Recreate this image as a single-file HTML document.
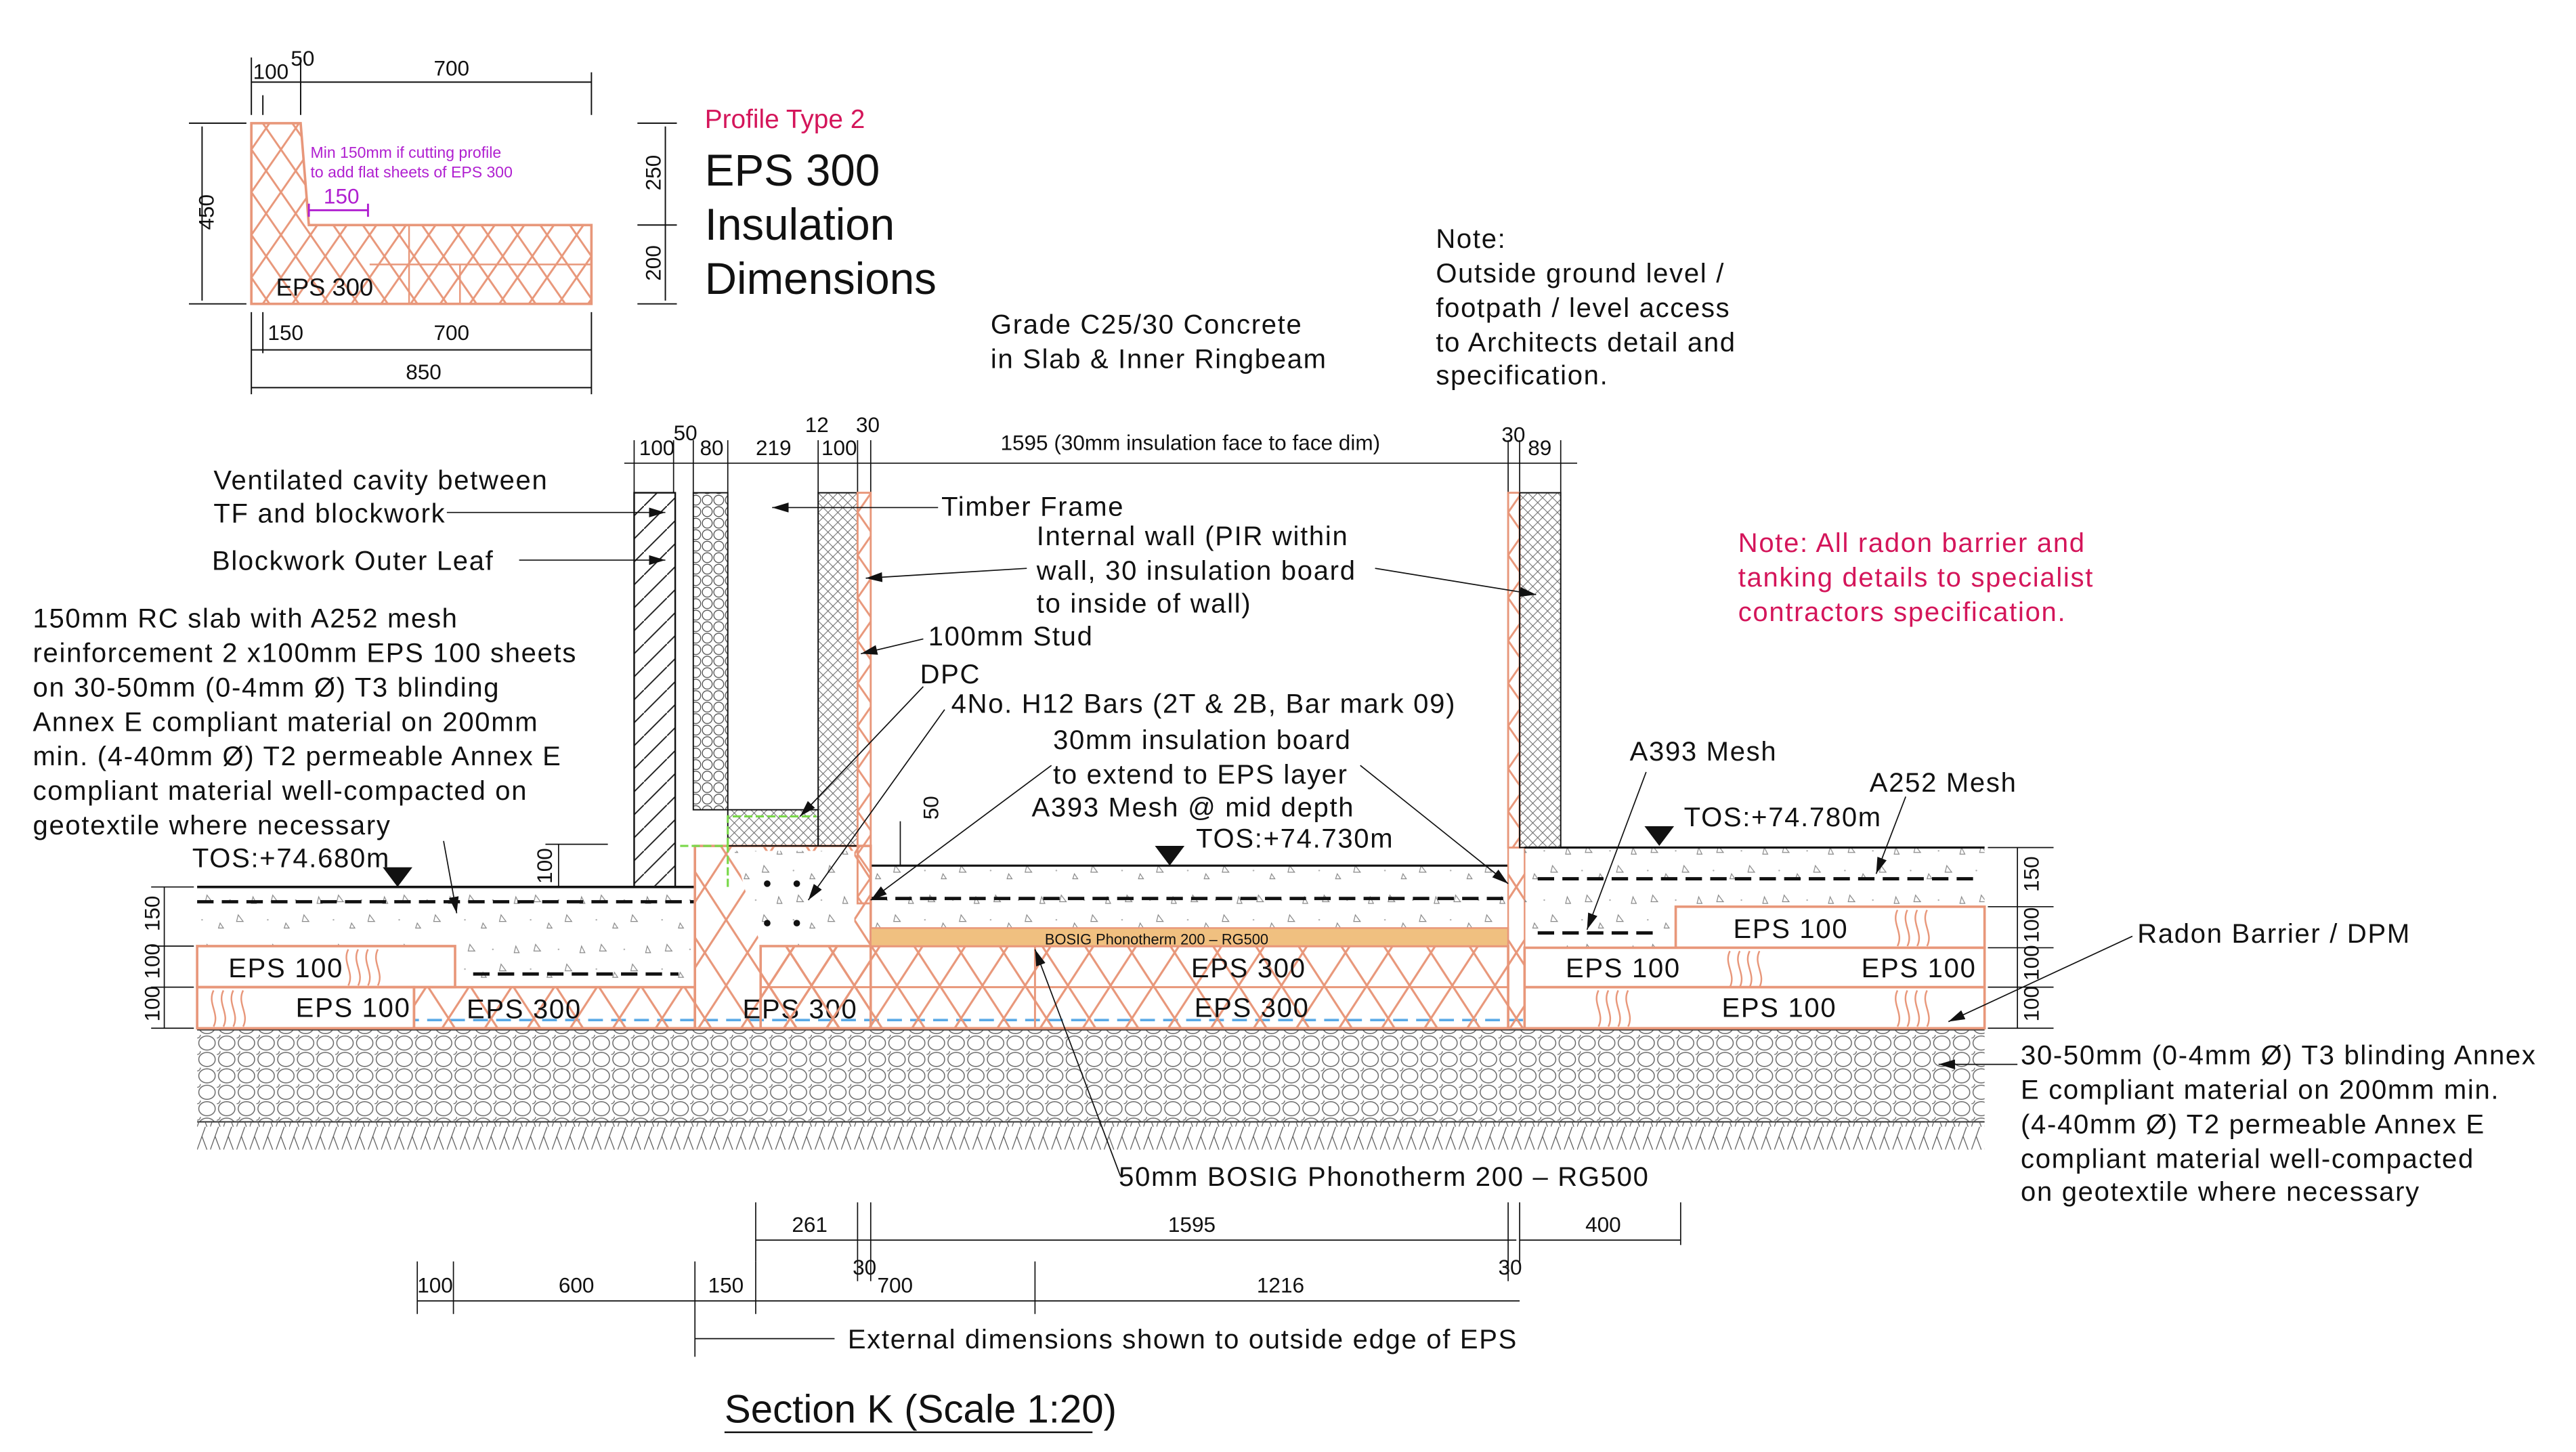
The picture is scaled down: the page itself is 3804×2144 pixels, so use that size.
<!DOCTYPE html>
<html><head><meta charset="utf-8"><style>
html,body{margin:0;padding:0;background:#fff}
svg{display:block}
text{font-family:"Liberation Sans",sans-serif;fill:#111}
.d{font-size:13px}
.l{font-size:16.5px;letter-spacing:0.7px}
</style></head><body>
<svg width="3804" height="2144" viewBox="0 0 1568 884" preserveAspectRatio="none" xmlns="http://www.w3.org/2000/svg">
<defs>
<pattern id="xh" width="26" height="40" patternUnits="userSpaceOnUse"><path d="M0 0L26 40M26 0L0 40" stroke="#e8977a" stroke-width="1.3" fill="none"/></pattern>
<pattern id="xhs" width="18" height="26" patternUnits="userSpaceOnUse"><path d="M0 0L18 26M18 0L0 26" stroke="#e8977a" stroke-width="1.2" fill="none"/></pattern>
<pattern id="conc" width="40" height="30" patternUnits="userSpaceOnUse"><path d="M6 5l3 4l-4 0zM25 17l3 4l-4 0zM34 6l2 4l-3 0zM14 22l2 3l-3 0z" stroke="#888" stroke-width="0.5" fill="none"/><circle cx="20" cy="8" r="0.5" fill="#aaa"/><circle cx="3" cy="20" r="0.5" fill="#aaa"/></pattern>
<pattern id="grav" width="12" height="10" patternUnits="userSpaceOnUse"><ellipse cx="6" cy="5" rx="5" ry="4.3" stroke="#666" stroke-width="0.6" fill="none"/><circle cx="0" cy="0" r="2" stroke="#666" stroke-width="0.5" fill="none"/></pattern>
<pattern id="soil" width="8" height="14" patternUnits="userSpaceOnUse"><path d="M0 14L5 0M6 14L3 6" stroke="#555" stroke-width="0.5"/></pattern>
<pattern id="diag" width="14" height="14" patternUnits="userSpaceOnUse"><path d="M0 14L14 0" stroke="#222" stroke-width="0.8"/></pattern>
<pattern id="hex" width="7" height="7" patternUnits="userSpaceOnUse"><circle cx="3.5" cy="3.5" r="3" stroke="#444" stroke-width="0.5" fill="none"/></pattern>
<pattern id="fx" width="6" height="6" patternUnits="userSpaceOnUse"><path d="M0 0L6 6M6 0L0 6" stroke="#666" stroke-width="0.4"/></pattern>
<marker id="ar" markerWidth="10" markerHeight="6" refX="10" refY="3" orient="auto" markerUnits="userSpaceOnUse"><path d="M0 0L10 3L0 6z" fill="#111"/></marker>
</defs>

<!-- INSET PROFILE -->
<g stroke="#111" stroke-width="0.8" fill="none">
<path d="M153 35V70M183 35V70M160 58V70M360 44V70M153 50H183M160 50H360"/>
<path d="M123 77V183M115 75H150M115 185H150"/>
<path d="M153 190V240M160 190V215M360 190V240M153 213H360M153 236H360"/>
<path d="M388 75H412M388 137H412M388 185H412M405 77V183"/>
</g>
<path d="M153 75H183L188 137H360V185H153Z" fill="url(#xhs)" stroke="#e8977a" stroke-width="1.5"/>
<path d="M249 137V185M225 161H360M280 161V185" stroke="#e8977a" stroke-width="1" fill="none"/>
<text class="d" x="154" y="48">100</text><text class="d" x="177" y="40">50</text><text class="d" x="264" y="46">700</text>
<text class="d" transform="translate(130,140) rotate(-90)">450</text>
<text x="189" y="96" font-size="9.5" style="fill:#b020d0">Min 150mm if cutting profile</text>
<text x="189" y="108" font-size="9.5" style="fill:#b020d0">to add flat sheets of EPS 300</text>
<text x="197" y="124" font-size="13" style="fill:#b020d0">150</text>
<path d="M188 128H224M188 124V132M224 124V132" stroke="#b020d0" stroke-width="1.2"/>
<text x="168" y="180" font-size="15">EPS 300</text>
<text class="d" x="163" y="207">150</text><text class="d" x="264" y="207">700</text><text class="d" x="247" y="231">850</text>
<text class="d" transform="translate(402,116) rotate(-90)">250</text>
<text class="d" transform="translate(402,171) rotate(-90)">200</text>
<text x="429" y="78" font-size="16" style="fill:#d4155a">Profile Type 2</text>
<text x="429" y="113" font-size="27">EPS 300</text>
<text x="429" y="146" font-size="27">Insulation</text>
<text x="429" y="179" font-size="27">Dimensions</text>

<text class="l" x="603" y="203">Grade C25/30 Concrete</text>
<text class="l" x="603" y="224">in Slab &amp; Inner Ringbeam</text>
<text class="l" x="874" y="151">Note:</text>
<text class="l" x="874" y="172">Outside ground level /</text>
<text class="l" x="874" y="193">footpath / level access</text>
<text class="l" x="874" y="214">to Architects detail and</text>
<text class="l" x="874" y="234">specification.</text>
<text class="l" x="1058" y="336" style="fill:#d4155a">Note: All radon barrier and</text>
<text class="l" x="1058" y="357" style="fill:#d4155a">tanking details to specialist</text>
<text class="l" x="1058" y="378" style="fill:#d4155a">contractors specification.</text>

<!-- top dims -->
<g stroke="#111" stroke-width="0.7" fill="none">
<path d="M380 282H540M540 282H960M386 268V300M410 268V300M422 268V300M443 268V300M498 268V300M522 268V300M530 268V300M918 268V300M925 268V300M950 268V300"/>
</g>
<text class="d" x="389" y="277">100</text><text class="d" x="410" y="268">50</text><text class="d" x="426" y="277">80</text><text class="d" x="460" y="277">219</text><text class="d" x="490" y="263">12</text><text class="d" x="500" y="277">100</text><text class="d" x="521" y="263">30</text>
<text class="d" x="609" y="274">1595 (30mm insulation face to face dim)</text>
<text class="d" x="914" y="269">30</text><text class="d" x="930" y="277">89</text>

<!-- ground -->
<rect x="120" y="627" width="1088" height="56" fill="url(#grav)"/>
<path d="M120 627H1208M120 683H1208" stroke="#333" stroke-width="0.8"/>
<rect x="120" y="683" width="1088" height="17" fill="url(#soil)"/>
<path d="M120 621H1208" stroke="#5aaae6" stroke-width="1.5" stroke-dasharray="9 5"/>

<!-- left section -->
<rect x="120" y="540" width="303" height="61" fill="url(#conc)"/>
<path d="M120 540H423" stroke="#111" stroke-width="1.5"/>
<path d="M120 549H423" stroke="#111" stroke-width="2" stroke-dasharray="10 5"/>
<path d="M288 593H413" stroke="#111" stroke-width="2" stroke-dasharray="10 5"/>
<path d="M120 576H277V601H120Z" fill="#fff" stroke="#e8977a" stroke-width="1.5"/>
<path d="M120 601H252V626H120Z" fill="#fff" stroke="#e8977a" stroke-width="1.5"/>
<rect x="252" y="601" width="171" height="25" fill="url(#xh)" stroke="#e8977a" stroke-width="1.5"/>
<g stroke="#e8977a" stroke-width="1" fill="none"><path d="M212 578c-4 8 4 14 0 22M218 578c-4 8 4 14 0 22M224 578c-4 8 4 14 0 22M230 578c-4 8 4 14 0 22M130 603c-4 8 4 14 0 22M136 603c-4 8 4 14 0 22M142 603c-4 8 4 14 0 22M148 603c-4 8 4 14 0 22"/></g>
<text class="l" x="139" y="595">EPS 100</text><text class="l" x="180" y="619">EPS 100</text><text class="l" x="284" y="620">EPS 300</text>

<!-- ringbeam -->
<path d="M423 515H530V626H423Z" fill="url(#xh)" stroke="#e8977a" stroke-width="1.5"/>
<path d="M447 518H520V576H463Z" fill="#fff"/>
<path d="M447 518H520V576H463Z" fill="url(#conc)"/>
<g fill="#111"><circle cx="467" cy="538" r="2"/><circle cx="485" cy="538" r="2"/><circle cx="467" cy="562" r="2"/><circle cx="485" cy="562" r="2"/></g>
<text class="l" x="452" y="620">EPS 300</text>

<!-- middle -->
<rect x="463" y="576" width="455" height="50" fill="url(#xh)" stroke="#e8977a" stroke-width="1.5"/>
<path d="M463 601H918M630 576V626" stroke="#e8977a" stroke-width="1.2"/>
<rect x="530" y="527" width="388" height="38" fill="url(#conc)"/>
<path d="M530 527H918" stroke="#111" stroke-width="1.3"/>
<path d="M530 547H918" stroke="#111" stroke-width="2" stroke-dasharray="10 5"/>
<rect x="530" y="565" width="388" height="11" fill="#f0c080" stroke="#e8977a"/>
<text x="636" y="575" font-size="9">BOSIG Phonotherm 200 – RG500</text>
<text class="l" x="725" y="595">EPS 300</text><text class="l" x="727" y="619">EPS 300</text>

<!-- right section -->
<rect x="918" y="516" width="10" height="110" fill="url(#xh)" stroke="#e8977a"/>
<rect x="928" y="516" width="280" height="61" fill="url(#conc)"/>
<path d="M928 516H1208" stroke="#111" stroke-width="1.3"/>
<path d="M936 535H1205" stroke="#111" stroke-width="2" stroke-dasharray="10 5"/>
<path d="M936 568H1010" stroke="#111" stroke-width="2" stroke-dasharray="10 5"/>
<path d="M1020 552H1208V577H1020Z" fill="#fff" stroke="#e8977a" stroke-width="1.5"/>
<path d="M928 577H1208V601H928ZM928 601H1208V626H928Z" fill="#fff" stroke="#e8977a" stroke-width="1.5"/>
<g stroke="#e8977a" stroke-width="1" fill="none"><path d="M1155 554c-4 8 4 14 0 22M1161 554c-4 8 4 14 0 22M1167 554c-4 8 4 14 0 22M1173 554c-4 8 4 14 0 22M1053 579c-4 8 4 14 0 22M1059 579c-4 8 4 14 0 22M1065 579c-4 8 4 14 0 22M1071 579c-4 8 4 14 0 22M973 603c-4 8 4 14 0 22M979 603c-4 8 4 14 0 22M985 603c-4 8 4 14 0 22M991 603c-4 8 4 14 0 22M1155 603c-4 8 4 14 0 22M1161 603c-4 8 4 14 0 22M1167 603c-4 8 4 14 0 22M1173 603c-4 8 4 14 0 22"/></g>
<text class="l" x="1055" y="571">EPS 100</text><text class="l" x="953" y="595">EPS 100</text><text class="l" x="1133" y="595">EPS 100</text><text class="l" x="1048" y="619">EPS 100</text>

<!-- walls -->
<rect x="386" y="300" width="25" height="240" fill="url(#diag)" stroke="#111" stroke-width="1"/>
<rect x="422" y="300" width="21" height="193" fill="url(#hex)" stroke="#111" stroke-width="0.8"/>
<rect x="443" y="493" width="55" height="22" fill="url(#fx)" stroke="#111" stroke-width="0.8"/>
<rect x="498" y="300" width="24" height="215" fill="url(#fx)" stroke="#111" stroke-width="0.8"/>
<rect x="522" y="300" width="8" height="250" fill="url(#xhs)" stroke="#e8977a" stroke-width="1.2"/>
<path d="M414 515H443V540M443 515V497H497" stroke="#7ad84a" stroke-width="1.3" stroke-dasharray="5 2" fill="none"/>
<rect x="918" y="300" width="7" height="216" fill="url(#xhs)" stroke="#e8977a" stroke-width="1.2"/>
<rect x="925" y="300" width="25" height="216" fill="url(#fx)" stroke="#111" stroke-width="0.8"/>

<!-- left dims -->
<g stroke="#111" stroke-width="0.7" fill="none">
<path d="M100 540V626M92 540H118M92 576H118M92 601H118M92 626H118"/>
<path d="M1228 516V626M1210 516H1250M1210 552H1250M1210 577H1250M1210 601H1250M1210 626H1250"/>
<path d="M340 514V540M332 514H370"/>
<path d="M548 500V527"/>
</g>
<text class="d" transform="translate(97,567) rotate(-90)">150</text>
<text class="d" transform="translate(97,596) rotate(-90)">100</text>
<text class="d" transform="translate(97,622) rotate(-90)">100</text>
<text class="d" transform="translate(1241,543) rotate(-90)">150</text>
<text class="d" transform="translate(1241,574) rotate(-90)">100</text>
<text class="d" transform="translate(1241,597) rotate(-90)">100</text>
<text class="d" transform="translate(1241,622) rotate(-90)">100</text>
<text class="d" transform="translate(336,538) rotate(-90)">100</text>
<text class="d" transform="translate(571,499) rotate(-90)">50</text>

<!-- TOS markers -->
<path d="M233 528h18l-9 12z" fill="#111"/>
<path d="M703 515h18l-9 12z" fill="#111"/>
<path d="M1001 503h18l-9 12z" fill="#111"/>
<text class="l" x="117" y="528">TOS:+74.680m</text>
<text class="l" x="728" y="516">TOS:+74.730m</text>
<text class="l" x="1025" y="503">TOS:+74.780m</text>

<!-- labels -->
<text class="l" x="130" y="298">Ventilated cavity between</text>
<text class="l" x="130" y="318">TF and blockwork</text>
<text class="l" x="129" y="347">Blockwork Outer Leaf</text>
<text class="l" x="20" y="382">150mm RC slab with A252 mesh</text>
<text class="l" x="20" y="403">reinforcement 2 x100mm EPS 100 sheets</text>
<text class="l" x="20" y="424">on 30-50mm (0-4mm Ø) T3 blinding</text>
<text class="l" x="20" y="445">Annex E compliant material on 200mm</text>
<text class="l" x="20" y="466">min. (4-40mm Ø) T2 permeable Annex E</text>
<text class="l" x="20" y="487">compliant material well-compacted on</text>
<text class="l" x="20" y="508">geotextile where necessary</text>
<text class="l" x="573" y="314">Timber Frame</text>
<text class="l" x="631" y="332">Internal wall (PIR within</text>
<text class="l" x="631" y="353">wall, 30 insulation board</text>
<text class="l" x="631" y="373">to inside of wall)</text>
<text class="l" x="565" y="393">100mm Stud</text>
<text class="l" x="560" y="416">DPC</text>
<text class="l" x="579" y="434">4No. H12 Bars (2T &amp; 2B, Bar mark 09)</text>
<text class="l" x="641" y="456">30mm insulation board</text>
<text class="l" x="641" y="477">to extend to EPS layer</text>
<text class="l" x="628" y="497">A393 Mesh @ mid depth</text>
<text class="l" x="992" y="463">A393 Mesh</text>
<text class="l" x="1138" y="482">A252 Mesh</text>
<text class="l" x="1301" y="574">Radon Barrier / DPM</text>
<text class="l" x="1230" y="648">30-50mm (0-4mm Ø) T3 blinding Annex</text>
<text class="l" x="1230" y="669">E compliant material on 200mm min.</text>
<text class="l" x="1230" y="690">(4-40mm Ø) T2 permeable Annex E</text>
<text class="l" x="1230" y="711">compliant material well-compacted</text>
<text class="l" x="1230" y="731">on geotextile where necessary</text>
<text class="l" x="681" y="722">50mm BOSIG Phonotherm 200 – RG500</text>

<!-- leaders -->
<g stroke="#111" stroke-width="0.7" fill="none" marker-end="url(#ar)">
<path d="M272 312L405 312"/>
<path d="M316 341L405 341"/>
<path d="M571 309L470 309"/>
<path d="M625 346L527 352"/>
<path d="M837 346L935 362"/>
<path d="M562 389L524 398"/>
<path d="M562 418L487 497"/>
<path d="M575 432L492 548"/>
<path d="M640 466L530 548"/>
<path d="M828 466L918 538"/>
<path d="M270 512L278 556"/>
<path d="M1002 470L966 566"/>
<path d="M1160 485L1142 532"/>
<path d="M1298 570L1186 622"/>
<path d="M1228 648L1180 648"/>
<path d="M682 716L630 578"/>
</g>

<!-- bottom dims -->
<g stroke="#111" stroke-width="0.7" fill="none">
<path d="M460 755H923M460 732V768M522 732V780M530 732V780M918 732V780M925 732V768M1023 732V758M925 755H1023"/>
<path d="M254 792H925M254 768V800M276 768V800M423 768V826M460 768V800M630 768V800M423 815H508"/>
</g>
<text class="d" x="482" y="750">261</text><text class="d" x="711" y="750">1595</text><text class="d" x="965" y="750">400</text>
<text class="d" x="254" y="787">100</text><text class="d" x="340" y="787">600</text><text class="d" x="431" y="787">150</text><text class="d" x="519" y="776">30</text><text class="d" x="534" y="787">700</text><text class="d" x="765" y="787">1216</text><text class="d" x="912" y="776">30</text>
<text class="l" x="516" y="821">External dimensions shown to outside edge of EPS</text>
<text x="441" y="866" font-size="24">Section K (Scale 1:20)</text>
<path d="M441 872H665" stroke="#111" stroke-width="1"/>
</svg>
</body></html>
